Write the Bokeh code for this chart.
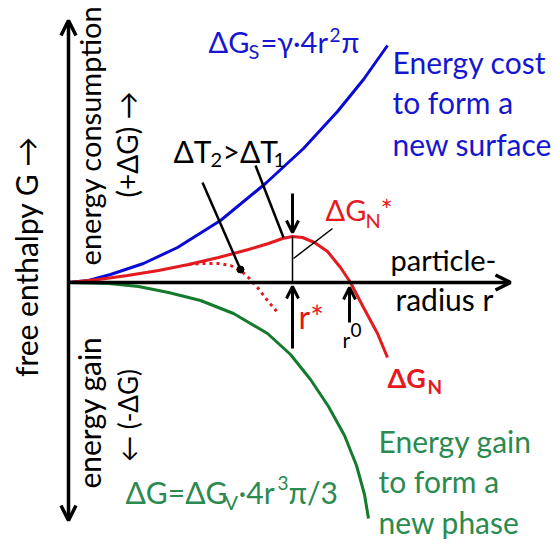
import math
from bokeh.plotting import figure
from bokeh.models import Range1d, Arrow, OpenHead
from bokeh.core.properties import value
from bokeh.embed import file_html
from bokeh.resources import INLINE

# ---- data (r = particle radius, G = free enthalpy) ----
r_surface = [0, 20, 42, 75, 109, 152, 197, 235, 269, 295, 319]
G_surface = [0, 2, 8, 19, 35, 62, 99, 134, 171, 203, 237]

r_volume = [0, 40, 70, 100, 132, 165, 199, 222, 242, 260, 276, 288, 296, 300]
G_volume = [0, -1, -4, -10, -18, -31, -51, -72, -97, -124, -153, -183, -212, -236]

r_total = [0, 30, 59, 90, 120, 150, 180, 200, 214, 224, 234, 246, 259, 272, 282, 295, 309, 319]
G_total = [0, 3, 7, 12, 18, 25, 33, 39, 44, 46, 45, 40, 31, 15, 0, -25, -51, -75]

r_total_dT2 = [120, 135, 150, 162, 172, 181, 189, 199, 210]
G_total_dT2 = [18, 19, 19, 17, 12, 4, -5, -18, -31]

r_star = 224      # critical radius
G_star = 46       # nucleation barrier
r_zero = 281      # radius where total curve crosses zero
r_axis_end = 442
G_axis_top = 262
G_axis_bottom = -238

FONT = "Lato"
BLUE = "#1616d0"
BLUE_LINE = "#0a0ad6"
RED = "#e41a1f"
GREEN_TXT = "#2a8a50"
GREEN_LINE = "#147a2c"

p = figure(width=559, height=543, x_range=Range1d(-68, 491), y_range=Range1d(-261, 282),
           output_backend="svg", toolbar_location=None, x_axis_type=None, y_axis_type=None,
           min_border=0)
p.grid.visible = False
p.outline_line_color = None
p.background_fill_color = "white"
p.border_fill_color = "white"

# axes as arrows
p.add_layout(Arrow(start=OpenHead(size=15, line_width=3.5), end=OpenHead(size=15, line_width=3.5),
                   x_start=0, y_start=G_axis_bottom, x_end=0, y_end=G_axis_top, line_width=3.5))
p.add_layout(Arrow(end=OpenHead(size=15, line_width=3.5),
                   x_start=0, y_start=0, x_end=r_axis_end, y_end=0, line_width=3.5))

# curves
p.line(r_surface, G_surface, line_color=BLUE_LINE, line_width=3)
p.line(r_volume, G_volume, line_color=GREEN_LINE, line_width=3)
p.line(r_total_dT2, G_total_dT2, line_color=RED, line_width=3, line_dash="3 4")
p.line(r_total, G_total, line_color=RED, line_width=3)

# critical radius markers
p.segment(x0=[r_star], y0=[0], x1=[r_star], y1=[G_star], line_color="black", line_width=1.5)
p.add_layout(Arrow(end=OpenHead(size=12, line_width=3), x_start=r_star, y_start=89,
                   x_end=r_star, y_end=G_star + 4, line_width=3))
p.add_layout(Arrow(end=OpenHead(size=12, line_width=3), x_start=r_star, y_start=-66,
                   x_end=r_star, y_end=-4, line_width=3))
p.add_layout(Arrow(end=OpenHead(size=12, line_width=3), x_start=r_zero, y_start=-40,
                   x_end=r_zero, y_end=-5, line_width=3))
# leader to dG_N*
p.segment(x0=[r_star + 1], y0=[24], x1=[264], y1=[54], line_color="black", line_width=1.5)
# undercooling pointers
p.segment(x0=[134, 187], y0=[100, 117], x1=[172, 215], y1=[13, 45], line_color="black", line_width=2.5)
p.scatter([172], [13], size=7, color="black")

K = 0.38  # baseline correction (fraction of font size)


def txt(x, y, s, size, color="black", bold=False, angle=0.0, align="left"):
    if angle == 0.0:
        y = y + K * size
    else:
        x = x - K * size
    p.text(x=[x], y=[y], text=[s], text_font=value(FONT), text_font_size=value(f"{size}px"),
           text_color=color, text_font_style="bold" if bold else "normal", angle=angle,
           text_align=align, text_baseline="alphabetic")


# vertical labels
V = math.pi / 2
txt(-31, 26, "free enthalpy G \u2192", 30, angle=V, align="center")
txt(32, 147, "energy consumption", 29, angle=V, align="center")
txt(69, 138, "(+\u0394G) \u2192", 28, angle=V, align="center")
txt(32, -130, "energy gain", 30, angle=V, align="center")
txt(69, -133, "\u2190 (-\u0394G)", 26, angle=V, align="center")

# surface term
txt(140, 230, "\u0394G", 29, BLUE)
txt(180, 224, "S", 20, BLUE)
txt(192, 230, "=\u03b3\u00b74r", 29, BLUE)
txt(261, 240, "2", 19, BLUE)
txt(273, 230, "\u03c0", 29, BLUE)
txt(324, 209, "Energy cost", 30, BLUE)
txt(324, 169, "to form a", 30, BLUE)
txt(324, 127, "new surface", 30, BLUE)

# volume term
txt(57, -221, "\u0394G=\u0394G", 30, GREEN_TXT)
txt(156, -227, "V", 20, GREEN_TXT)
txt(170, -221, "\u00b74r", 30, GREEN_TXT)
txt(209, -208, "3", 19, GREEN_TXT)
txt(220, -221, "\u03c0/3", 30, GREEN_TXT)
txt(310, -170, "Energy gain", 30, GREEN_TXT)
txt(310, -210, "to form a", 30, GREEN_TXT)
txt(310, -251, "new phase", 30, GREEN_TXT)

# undercooling label
txt(105, 120, "\u0394T", 30)
txt(142, 115, "2", 20)
txt(154, 120, ">\u0394T", 30)
txt(205, 115, "1", 20)

# nucleation labels
txt(257, 62, "\u0394G", 29, RED)
txt(297, 55, "N", 20, RED)
txt(312, 62, "*", 29, RED)
txt(230, -46, "r*", 32, RED)
txt(274, -65, "r", 21)
txt(282, -55, "0", 19)
txt(319, -105, "\u0394G", 27, RED, bold=True)
txt(359, -111, "N", 19, RED, bold=True)

# axis label
txt(322, 12, "particle-", 29)
txt(327, -28, "radius r", 30)

open("out.html", "w").write(file_html(p, INLINE))
